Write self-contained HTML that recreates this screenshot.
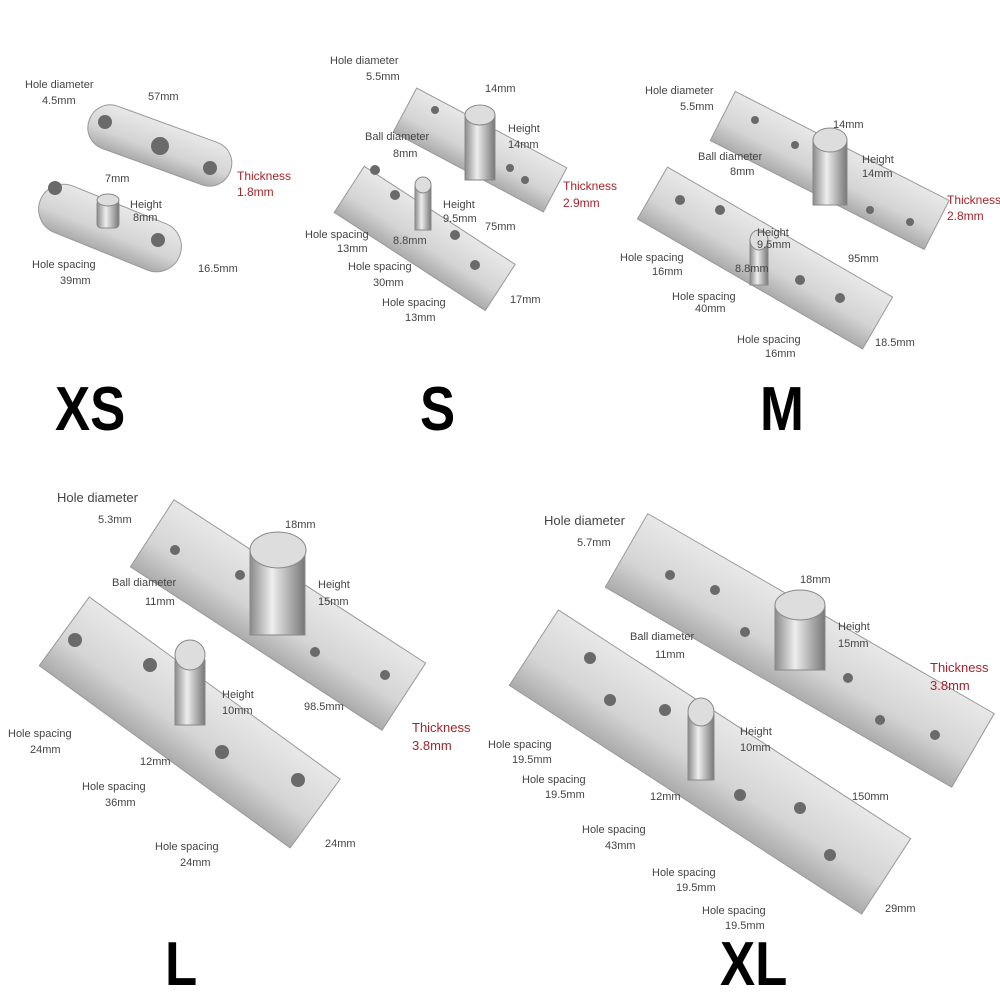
<!DOCTYPE html>
<html><head><meta charset="utf-8"><style>
html,body{margin:0;padding:0;background:#fff;width:1000px;height:1000px;overflow:hidden}
svg{display:block}
text{font-family:"Liberation Sans",sans-serif;fill:#444}
.s{font-size:11px}
.r{fill:#a8232a;font-size:12px}
.big{font-size:62px;fill:#000;font-weight:bold}
</style></head><body>
<svg width="1000" height="1000" viewBox="0 0 1000 1000">
<defs>
<linearGradient id="g" x1="0" y1="0" x2="0" y2="1">
<stop offset="0" stop-color="#e8e8e8"/><stop offset="0.6" stop-color="#d4d4d4"/><stop offset="1" stop-color="#ababab"/></linearGradient>
<linearGradient id="c" x1="0" y1="0" x2="1" y2="0">
<stop offset="0" stop-color="#8a8a8a"/><stop offset="0.4" stop-color="#eeeeee"/><stop offset="1" stop-color="#777"/></linearGradient>
</defs>
<g stroke="#999" stroke-width="1" fill="url(#g)">
<rect x="-75" y="-22" width="150" height="45" rx="22" transform="translate(160,145) rotate(20)"/>
<rect x="-75" y="-25" width="150" height="50" rx="25" transform="translate(110,228) rotate(22)"/>
<rect x="-85" y="-25" width="170" height="50" transform="translate(480,150) rotate(28)"/>
<rect x="-90" y="-27" width="180" height="55" transform="translate(425,238) rotate(33)"/>
<rect x="-120" y="-27" width="240" height="55" transform="translate(830,170) rotate(27)"/>
<rect x="-130" y="-30" width="260" height="60" transform="translate(765,258) rotate(30)"/>
<rect x="-150" y="-40" width="300" height="80" transform="translate(278,615) rotate(33)"/>
<rect x="-155" y="-42" width="310" height="85" transform="translate(190,722) rotate(36)"/>
<rect x="-200" y="-42" width="400" height="85" transform="translate(800,650) rotate(30)"/>
<rect x="-210" y="-45" width="420" height="90" transform="translate(710,762) rotate(33)"/>
</g>
<g fill="#6a6a6a">
<circle cx="105" cy="122" r="7"/><circle cx="160" cy="146" r="9"/><circle cx="210" cy="168" r="7"/>
<circle cx="55" cy="188" r="7"/><circle cx="158" cy="240" r="7"/>
<circle cx="435" cy="110" r="4"/><circle cx="510" cy="168" r="4"/><circle cx="525" cy="180" r="4"/>
<circle cx="375" cy="170" r="5"/><circle cx="395" cy="195" r="5"/><circle cx="455" cy="235" r="5"/><circle cx="475" cy="265" r="5"/>
<circle cx="755" cy="120" r="4"/><circle cx="795" cy="145" r="4"/><circle cx="870" cy="210" r="4"/><circle cx="910" cy="222" r="4"/>
<circle cx="680" cy="200" r="5"/><circle cx="720" cy="210" r="5"/><circle cx="800" cy="280" r="5"/><circle cx="840" cy="298" r="5"/>
<circle cx="175" cy="550" r="5"/><circle cx="240" cy="575" r="5"/><circle cx="315" cy="652" r="5"/><circle cx="385" cy="675" r="5"/>
<circle cx="75" cy="640" r="7"/><circle cx="150" cy="665" r="7"/><circle cx="222" cy="752" r="7"/><circle cx="298" cy="780" r="7"/>
<circle cx="670" cy="575" r="5"/><circle cx="715" cy="590" r="5"/><circle cx="745" cy="632" r="5"/><circle cx="848" cy="678" r="5"/><circle cx="880" cy="720" r="5"/><circle cx="935" cy="735" r="5"/>
<circle cx="590" cy="658" r="6"/><circle cx="610" cy="700" r="6"/><circle cx="665" cy="710" r="6"/><circle cx="740" cy="795" r="6"/><circle cx="800" cy="808" r="6"/><circle cx="830" cy="855" r="6"/>
</g>
<g fill="url(#c)" stroke="#888">
<rect x="97" y="200" width="22" height="28" rx="4"/><ellipse cx="108" cy="200" rx="11" ry="6" fill="#ddd"/>
<rect x="465" y="115" width="30" height="65"/><ellipse cx="480" cy="115" rx="15" ry="10" fill="#ddd"/>
<rect x="415" y="185" width="16" height="45"/><ellipse cx="423" cy="185" rx="8" ry="8" fill="#ddd"/>
<rect x="813" y="140" width="34" height="65"/><ellipse cx="830" cy="140" rx="17" ry="12" fill="#ddd"/>
<rect x="750" y="240" width="18" height="45"/><ellipse cx="759" cy="240" rx="9" ry="10" fill="#ddd"/>
<rect x="250" y="550" width="55" height="85"/><ellipse cx="278" cy="550" rx="28" ry="18" fill="#ddd"/>
<rect x="175" y="660" width="30" height="65"/><ellipse cx="190" cy="655" rx="15" ry="15" fill="#ddd"/>
<rect x="775" y="605" width="50" height="65"/><ellipse cx="800" cy="605" rx="25" ry="15" fill="#ddd"/>
<rect x="688" y="715" width="26" height="65"/><ellipse cx="701" cy="712" rx="13" ry="14" fill="#ddd"/>
</g>
<g class="s">
<text x="25" y="88">Hole diameter</text><text x="42" y="104">4.5mm</text><text x="148" y="100">57mm</text>
<text x="237" y="180" class="r">Thickness</text><text x="237" y="196" class="r">1.8mm</text>
<text x="105" y="182">7mm</text><text x="130" y="208">Height</text><text x="133" y="221">8mm</text>
<text x="32" y="268">Hole spacing</text><text x="60" y="284">39mm</text><text x="198" y="272">16.5mm</text>
<text x="330" y="64">Hole diameter</text><text x="366" y="80">5.5mm</text><text x="485" y="92">14mm</text>
<text x="508" y="132">Height</text><text x="508" y="148">14mm</text>
<text x="563" y="190" class="r">Thickness</text><text x="563" y="207" class="r">2.9mm</text>
<text x="365" y="140">Ball diameter</text><text x="393" y="157">8mm</text>
<text x="443" y="208">Height</text><text x="443" y="222">9.5mm</text><text x="485" y="230">75mm</text>
<text x="305" y="238">Hole spacing</text><text x="337" y="252">13mm</text><text x="393" y="244">8.8mm</text>
<text x="348" y="270">Hole spacing</text><text x="373" y="286">30mm</text>
<text x="382" y="306">Hole spacing</text><text x="405" y="321">13mm</text><text x="510" y="303">17mm</text>
<text x="645" y="94">Hole diameter</text><text x="680" y="110">5.5mm</text><text x="833" y="128">14mm</text>
<text x="862" y="163">Height</text><text x="862" y="177">14mm</text>
<text x="947" y="204" class="r">Thickness</text><text x="947" y="220" class="r">2.8mm</text>
<text x="698" y="160">Ball diameter</text><text x="730" y="175">8mm</text>
<text x="757" y="236">Height</text><text x="757" y="248">9.5mm</text><text x="848" y="262">95mm</text>
<text x="620" y="261">Hole spacing</text><text x="652" y="275">16mm</text><text x="735" y="272">8.8mm</text>
<text x="672" y="300">Hole spacing</text><text x="695" y="312">40mm</text>
<text x="737" y="343">Hole spacing</text><text x="765" y="357">16mm</text><text x="875" y="346">18.5mm</text>
<text x="57" y="502" style="font-size:13px">Hole diameter</text><text x="98" y="523">5.3mm</text><text x="285" y="528">18mm</text>
<text x="318" y="588">Height</text><text x="318" y="605">15mm</text>
<text x="112" y="586">Ball diameter</text><text x="145" y="605">11mm</text>
<text x="222" y="698">Height</text><text x="222" y="714">10mm</text><text x="304" y="710">98.5mm</text>
<text x="412" y="732" class="r" style="font-size:13px">Thickness</text><text x="412" y="750" class="r" style="font-size:13px">3.8mm</text>
<text x="8" y="737">Hole spacing</text><text x="30" y="753">24mm</text><text x="140" y="765">12mm</text>
<text x="82" y="790">Hole spacing</text><text x="105" y="806">36mm</text>
<text x="155" y="850">Hole spacing</text><text x="180" y="866">24mm</text><text x="325" y="847">24mm</text>
<text x="544" y="525" style="font-size:13px">Hole diameter</text><text x="577" y="546">5.7mm</text><text x="800" y="583">18mm</text>
<text x="838" y="630">Height</text><text x="838" y="647">15mm</text>
<text x="930" y="672" class="r" style="font-size:13px">Thickness</text><text x="930" y="690" class="r" style="font-size:13px">3.8mm</text>
<text x="630" y="640">Ball diameter</text><text x="655" y="658">11mm</text>
<text x="740" y="735">Height</text><text x="740" y="751">10mm</text><text x="852" y="800">150mm</text>
<text x="488" y="748">Hole spacing</text><text x="512" y="763">19.5mm</text>
<text x="522" y="783">Hole spacing</text><text x="545" y="798">19.5mm</text><text x="650" y="800">12mm</text>
<text x="582" y="833">Hole spacing</text><text x="605" y="849">43mm</text>
<text x="652" y="876">Hole spacing</text><text x="676" y="891">19.5mm</text>
<text x="702" y="914">Hole spacing</text><text x="725" y="929">19.5mm</text><text x="885" y="912">29mm</text>
</g>
<text class="big" transform="translate(55,430) scale(0.85,1)">XS</text>
<text class="big" transform="translate(420,430) scale(0.85,1)">S</text>
<text class="big" transform="translate(760,430) scale(0.85,1)">M</text>
<text class="big" transform="translate(165,985) scale(0.85,1)">L</text>
<text class="big" transform="translate(720,985) scale(0.85,1)">XL</text>
</svg>
</body></html>
